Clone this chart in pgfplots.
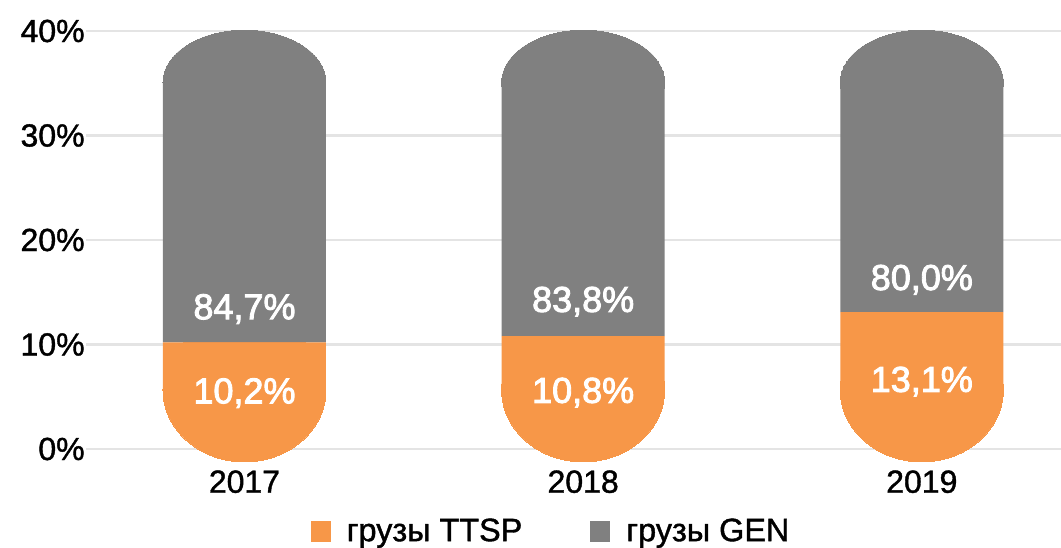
\documentclass[border=0pt]{standalone}
\usepackage{fontspec}
\setmainfont{Liberation Sans}
\newfontfamily\medA{Liberation Sans}[FakeBold=1.2]
\newfontfamily\medB{Liberation Sans}[FakeBold=2.5]
\usepackage{pgfplots}
\usepackage{pgfplotstable}
\pgfplotsset{compat=1.18}
\definecolor{ora}{RGB}{247,151,72}
\definecolor{gry}{RGB}{128,128,128}
\definecolor{grd}{RGB}{228,228,228}

\pgfplotstableread{
x ttsp gen capbase captop
0 10.2 84.7 5.65 35.1
1 10.8 83.8 5.65 35.1
2 13.1 80.0 5.65 35.1
}\datatab

\pgfplotsset{base/.style={
  at={(43pt,49pt)}, anchor=south west,
  scale only axis, width=487.5pt, height=209pt,
  xmin=-0.468, xmax=2.411, ymin=0, ymax=40,
  clip=false,
  axis line style={draw=none},
  tick style={draw=none},
  major tick length=0pt,
  xtick=\empty, ytick=\empty,
}}

\begin{document}
\begin{tikzpicture}
\useasboundingbox (0,0) rectangle (530.5pt,273.5pt);
% layer 1: grid, ticks, rounded caps
\begin{axis}[base,
  ytick={0,10,20,30,40},
  yticklabels={0\%,10\%,20\%,30\%,40\%},
  xtick={0,1,2},
  xticklabels={2017,2018,2019},
  ymajorgrids,
  grid style={grd, line width=1.3pt},
  yticklabel style={font=\fontsize{16}{18}\medA, anchor=east, inner sep=0pt, xshift=-0.5pt},
  xticklabel style={font=\fontsize{16}{18}\medA, anchor=north, inner sep=0pt, yshift=-10.5pt},
]
\addplot[only marks, mark=*, mark size=40.75pt,
  mark options={fill=gry, draw=gry, line width=0pt, yscale=0.638}]
  table[x=x, y=captop] {\datatab};
\addplot[only marks, mark=*, mark size=40.75pt,
  mark options={fill=ora, draw=ora, line width=0pt, yscale=0.883}]
  table[x=x, y=capbase] {\datatab};
\end{axis}
% layer 2: straight parts of the bars
\begin{axis}[base, ybar stacked, bar width=81.5pt,
  legend style={draw=none, fill=none, at={(0.478,-0.197)}, anchor=center,
    font=\fontsize{16.2}{18}\medA,
    /tikz/every odd column/.append style={column sep=6pt},
    /tikz/every even column/.append style={column sep=32pt}},
  legend columns=2,
]
\addplot[fill=none, draw=none, forget plot] table[x=x, y=capbase] {\datatab};
\addplot[fill=ora, draw=none,
  legend image code/.code={\fill[ora] (0pt,-5.2pt) rectangle (10pt,5.2pt);}]
  table[x=x, y expr=\thisrow{ttsp}-\thisrow{capbase}] {\datatab};
\addplot[fill=gry, draw=none,
  legend image code/.code={\fill[gry] (0pt,-5.2pt) rectangle (10pt,5.2pt);}]
  table[x=x, y expr=\thisrow{captop}-\thisrow{ttsp}] {\datatab};
\legend{грузы TTSP, грузы GEN}
\end{axis}
% layer 3: value labels
\begin{axis}[base]
\addplot[draw=none, mark=none, nodes near coords, point meta=explicit symbolic,
  every node near coord/.append style={anchor=center, text=white, font=\fontsize{18}{20}\medB}]
  table[x=x, y=lblo, meta=ttsp] {
x lblo ttsp
0 5.35 {10,2\%}
1 5.4 {10,8\%}
2 6.45 {13,1\%}
};
\addplot[draw=none, mark=none, nodes near coords, point meta=explicit symbolic,
  every node near coord/.append style={anchor=center, text=white, font=\fontsize{18}{20}\medB}]
  table[x=x, y=lblg, meta=gen] {
x lblg gen
0 13.4 {84,7\%}
1 14.1 {83,8\%}
2 16.2 {80,0\%}
};
\end{axis}
\end{tikzpicture}
\end{document}
